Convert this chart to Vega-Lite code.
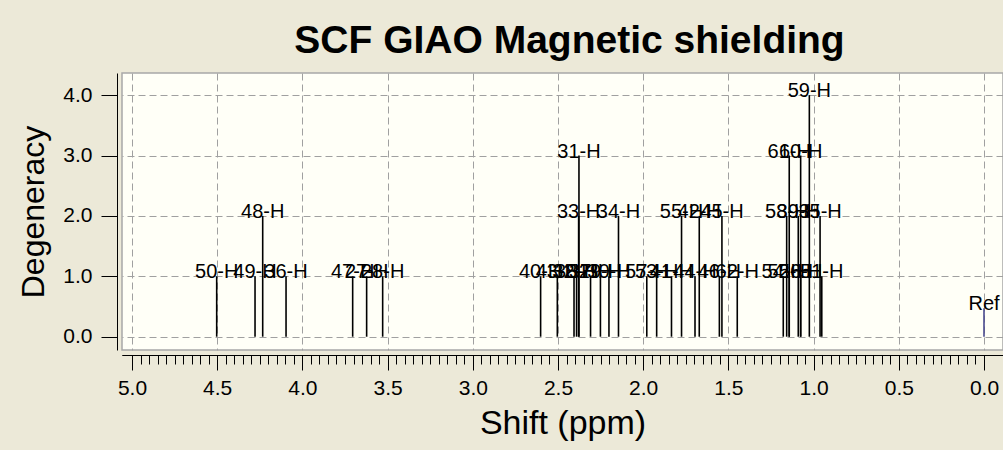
{
  "$schema": "https://vega.github.io/schema/vega-lite/v6.json",
  "width": 881,
  "height": 277,
  "autosize": {"type": "none"},
  "padding": {"left": 122, "top": 73, "right": 0, "bottom": 100},
  "background": "#ECE9D8",
  "title": {
    "text": "SCF GIAO Magnetic shielding",
    "fontSize": 39,
    "fontWeight": "bold",
    "font": "Liberation Sans",
    "color": "#000000",
    "anchor": "middle",
    "frame": "group",
    "offset": 12,
    "dx": 7
  },
  "config": {
    "view": {"fill": "#FFFFF7", "stroke": "#A8A8A8", "strokeWidth": 1.5},
    "font": "Liberation Sans",
    "axis": {
      "labelColor": "#000000",
      "titleColor": "#000000",
      "tickColor": "#000000",
      "domainColor": "#000000",
      "labelFont": "Liberation Sans",
      "titleFont": "Liberation Sans",
      "titleFontWeight": "normal",
      "gridColor": "#A0A0A0",
      "gridDash": [7, 4],
      "gridOpacity": 1,
      "labelOverlap": false,
      "labelFlush": false
    }
  },
  "data": {
    "values": [
      {"shift": 4.503, "deg": 1, "label": "50-H", "kind": "H"},
      {"shift": 4.278, "deg": 1, "label": "49-H", "kind": "H"},
      {"shift": 4.233, "deg": 2, "label": "48-H", "kind": "H"},
      {"shift": 4.096, "deg": 1, "label": "36-H", "kind": "H"},
      {"shift": 3.705, "deg": 1, "label": "47-H", "kind": "H"},
      {"shift": 3.623, "deg": 1, "label": "27-H", "kind": "H"},
      {"shift": 3.529, "deg": 1, "label": "28-H", "kind": "H"},
      {"shift": 2.602, "deg": 1, "label": "40-H", "kind": "H"},
      {"shift": 2.504, "deg": 1, "label": "43-H", "kind": "H"},
      {"shift": 2.406, "deg": 1, "label": "32-H", "kind": "H"},
      {"shift": 2.391, "deg": 1, "label": "38-H", "kind": "H"},
      {"shift": 2.377, "deg": 3, "label": "31-H", "kind": "H"},
      {"shift": 2.379, "deg": 2, "label": "33-H", "kind": "H"},
      {"shift": 2.309, "deg": 1, "label": "37-H", "kind": "H"},
      {"shift": 2.251, "deg": 1, "label": "29-H", "kind": "H"},
      {"shift": 2.201, "deg": 1, "label": "30-H", "kind": "H"},
      {"shift": 2.145, "deg": 2, "label": "34-H", "kind": "H"},
      {"shift": 1.979, "deg": 1, "label": "57-H", "kind": "H"},
      {"shift": 1.921, "deg": 1, "label": "53-H", "kind": "H"},
      {"shift": 1.834, "deg": 1, "label": "41-H", "kind": "H"},
      {"shift": 1.775, "deg": 2, "label": "55-H", "kind": "H"},
      {"shift": 1.696, "deg": 1, "label": "44-H", "kind": "H"},
      {"shift": 1.671, "deg": 2, "label": "42-H", "kind": "H"},
      {"shift": 1.553, "deg": 1, "label": "46-H", "kind": "H"},
      {"shift": 1.538, "deg": 2, "label": "45-H", "kind": "H"},
      {"shift": 1.448, "deg": 1, "label": "62-H", "kind": "H"},
      {"shift": 1.178, "deg": 1, "label": "54-H", "kind": "H"},
      {"shift": 1.158, "deg": 2, "label": "58-H", "kind": "H"},
      {"shift": 1.143, "deg": 1, "label": "52-H", "kind": "H"},
      {"shift": 1.143, "deg": 3, "label": "61-H", "kind": "H"},
      {"shift": 1.09, "deg": 2, "label": "39-H", "kind": "H"},
      {"shift": 1.076, "deg": 1, "label": "56-H", "kind": "H"},
      {"shift": 1.076, "deg": 3, "label": "60-H", "kind": "H"},
      {"shift": 1.025, "deg": 4, "label": "59-H", "kind": "H"},
      {"shift": 0.962, "deg": 2, "label": "35-H", "kind": "H"},
      {"shift": 0.952, "deg": 1, "label": "51-H", "kind": "H"},
      {"shift": 0.0, "deg": 0.47, "label": "Ref", "kind": "Ref"}
    ]
  },
  "layer": [
    {
      "mark": {"type": "rule", "strokeWidth": 1.6},
      "encoding": {
        "x": {
          "field": "shift",
          "type": "quantitative",
          "scale": {"domain": [-0.1115, 5.0587], "reverse": true, "nice": false, "zero": false},
          "axis": {
            "orient": "bottom",
            "values": [0, 0.5, 1, 1.5, 2, 2.5, 3, 3.5, 4, 4.5, 5],
            "format": ".1f",
            "title": "Shift (ppm)",
            "titleFontSize": 34,
            "titlePadding": 8,
            "labelFontSize": 21,
            "labelPadding": 7,
            "tickSize": 15,
            "offset": 5,
            "grid": true
          }
        },
        "y": {
          "field": "deg",
          "type": "quantitative",
          "scale": {"domain": [-0.22, 4.366], "nice": false, "zero": false},
          "axis": {
            "values": [0, 1, 2, 3, 4],
            "format": ".1f",
            "title": "Degeneracy",
            "titleFontSize": 32,
            "titlePadding": 12,
            "labelFontSize": 21,
            "labelPadding": 9,
            "tickSize": 16,
            "offset": 5,
            "grid": true
          }
        },
        "y2": {"datum": 0},
        "color": {
          "field": "kind",
          "type": "nominal",
          "scale": {"domain": ["H", "Ref"], "range": ["#000000", "#4A4A8E"]},
          "legend": null
        }
      }
    },
    {
      "mark": {"type": "text", "fontSize": 20, "align": "center", "baseline": "alphabetic", "dy": 2, "color": "#000000", "font": "Liberation Sans"},
      "encoding": {
        "x": {"field": "shift", "type": "quantitative", "axis": null},
        "y": {"field": "deg", "type": "quantitative"},
        "text": {"field": "label"}
      }
    },
    {
      "mark": {"type": "rule", "opacity": 0},
      "encoding": {
        "x": {
          "field": "shift",
          "type": "quantitative",
          "axis": {
            "orient": "bottom",
            "values": [0, 0.05, 0.1, 0.15, 0.2, 0.25, 0.3, 0.35, 0.4, 0.45, 0.5, 0.55, 0.6, 0.65, 0.7, 0.75, 0.8, 0.85, 0.9, 0.95, 1, 1.05, 1.1, 1.15, 1.2, 1.25, 1.3, 1.35, 1.4, 1.45, 1.5, 1.55, 1.6, 1.65, 1.7, 1.75, 1.8, 1.85, 1.9, 1.95, 2, 2.05, 2.1, 2.15, 2.2, 2.25, 2.3, 2.35, 2.4, 2.45, 2.5, 2.55, 2.6, 2.65, 2.7, 2.75, 2.8, 2.85, 2.9, 2.95, 3, 3.05, 3.1, 3.15, 3.2, 3.25, 3.3, 3.35, 3.4, 3.45, 3.5, 3.55, 3.6, 3.65, 3.7, 3.75, 3.8, 3.85, 3.9, 3.95, 4, 4.05, 4.1, 4.15, 4.2, 4.25, 4.3, 4.35, 4.4, 4.45, 4.5, 4.55, 4.6, 4.65, 4.7, 4.75, 4.8, 4.85, 4.9, 4.95, 5],
            "labels": false,
            "title": null,
            "grid": false,
            "tickSize": 9,
            "offset": 5
          }
        },
        "y": {"field": "deg", "type": "quantitative"},
        "y2": {"datum": 0}
      }
    }
  ],
  "resolve": {"axis": {"x": "independent"}}
}
